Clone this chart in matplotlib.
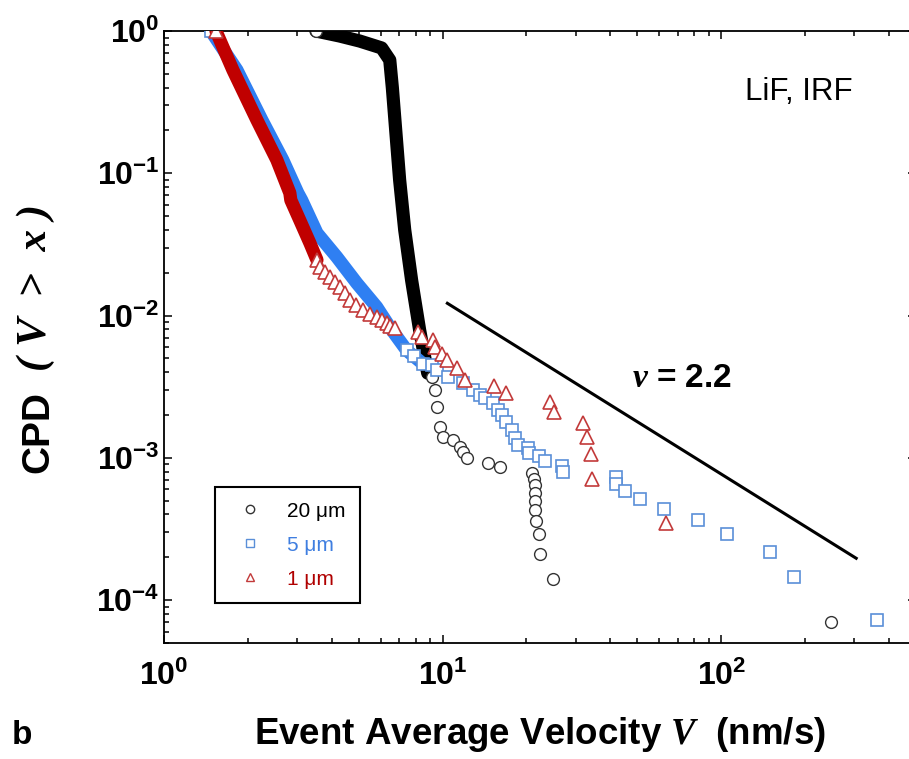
import numpy as np
import matplotlib.pyplot as plt
import matplotlib as mpl
from matplotlib.lines import Line2D
from matplotlib.ticker import NullFormatter
from matplotlib import font_manager

mpl.rcParams['font.family'] = ['Liberation Sans', 'DejaVu Sans']
mpl.rcParams['mathtext.fontset'] = 'custom'
mpl.rcParams['mathtext.rm'] = 'Liberation Sans:bold'
mpl.rcParams['mathtext.bf'] = 'Liberation Sans:bold'
mpl.rcParams['mathtext.it'] = 'Liberation Serif:italic:bold'
mpl.rcParams['axes.linewidth'] = 1.3

# condensed face for the axis titles if it is installed
installed = {f.name for f in font_manager.fontManager.ttflist}
narrow = 'Liberation Sans Narrow' if 'Liberation Sans Narrow' in installed else None

# 20 um: dense part (drawn as thick band) + open circles
black_line_x = [3.51, 4.27, 5.04, 6.04, 6.46, 6.6, 7.01, 7.31, 7.74, 8.27, 8.84]
black_line_y = [1.0, 0.922, 0.85, 0.76, 0.625, 0.40, 0.0897, 0.040, 0.0177, 7.9e-3, 3.94e-3]
black_pts_x = [3.51, 9.13, 9.36, 9.52, 9.75, 10.0, 10.9, 11.5, 11.8, 12.2, 14.5, 16.1,
               21.0, 21.2, 21.4, 21.4, 21.5, 21.5, 21.7, 22.1, 22.3, 24.8, 248]
black_pts_y = [1.0, 3.70e-3, 2.99e-3, 2.27e-3, 1.64e-3, 1.40e-3, 1.33e-3, 1.19e-3, 1.10e-3, 1.0e-3,
               9.2e-4, 8.6e-4, 7.8e-4, 7.1e-4, 6.4e-4, 5.7e-4, 5.0e-4, 4.3e-4, 3.6e-4, 2.9e-4,
               2.1e-4, 1.4e-4, 7.0e-5]

# 5 um
blue_line_x = [1.474, 1.827, 2.245, 2.670, 3.022, 3.12, 3.54, 4.17, 4.92, 5.80, 6.46, 7.43, 8.48]
blue_line_y = [1.0, 0.532, 0.237, 0.124, 0.0727, 0.0648, 0.038, 0.0258, 0.0169, 0.01148, 8.3e-3, 5.7e-3, 4.6e-3]
blue_pts_x = [1.474, 7.43, 7.9, 8.48, 9.13, 9.52, 10.42, 11.8, 12.81, 13.57, 14.14, 15.11, 15.75,
              16.27, 16.95, 17.67, 18.12, 18.57, 20.17, 20.5, 22.1, 23.4, 26.9, 27.1, 42.0,
              42.0, 45.3, 51.3, 62.5, 82.7, 105.1, 149.8, 182.7, 362]
blue_pts_y = [1.0, 5.7e-3, 5.2e-3, 4.6e-3, 4.49e-3, 4.14e-3, 3.70e-3, 3.35e-3, 2.99e-3, 2.76e-3,
              2.63e-3, 2.43e-3, 2.17e-3, 2.00e-3, 1.78e-3, 1.57e-3, 1.38e-3, 1.23e-3, 1.17e-3,
              1.08e-3, 1.03e-3, 9.5e-4, 8.75e-4, 7.94e-4, 7.32e-4, 6.54e-4, 5.84e-4, 5.13e-4,
              4.36e-4, 3.65e-4, 2.91e-4, 2.17e-4, 1.45e-4, 7.2e-5]

# 1 um
red_line_x = [1.536, 1.767, 2.154, 2.541, 2.829, 2.852, 3.07, 3.34, 3.54]
red_line_y = [1.0, 0.532, 0.237, 0.124, 0.0727, 0.0648, 0.0469, 0.0323, 0.0246]
red_pts_x = [1.536, 3.54, 3.63, 3.78, 3.94, 4.1, 4.27, 4.45, 4.64, 4.9, 5.17, 5.5, 5.80, 6.05,
             6.30, 6.5, 6.73, 8.13, 8.41, 9.20, 9.36, 9.91, 10.33, 11.22, 11.99, 15.24, 16.95,
             24.2, 25.2, 32.0, 33.1, 34.2, 34.5, 63.5]
red_pts_y = [1.0, 0.0246, 0.0219, 0.0202, 0.01865, 0.0172, 0.01586, 0.0143, 0.01285, 0.0119,
             0.01094, 0.0103, 9.76e-3, 9.3e-3, 8.86e-3, 8.5e-3, 8.17e-3, 7.66e-3, 7.07e-3,
             6.73e-3, 6.01e-3, 5.36e-3, 4.87e-3, 4.27e-3, 3.52e-3, 3.19e-3, 2.85e-3, 2.47e-3,
             2.10e-3, 1.76e-3, 1.40e-3, 1.06e-3, 7.1e-4, 3.48e-4]

# power-law guide, nu = 2.2
guide_x = [10.4, 305]
guide_y = [0.0122, 1.97e-4]

xtick_vals = [1, 10, 100]
xtick_labels = [r'$\mathbf{10^{0}}$', r'$\mathbf{10^{1}}$', r'$\mathbf{10^{2}}$']
ytick_vals = [1e-4, 1e-3, 1e-2, 1e-1, 1]
ytick_labels = [r'$\mathbf{10^{-4}}$', r'$\mathbf{10^{-3}}$', r'$\mathbf{10^{-2}}$',
                r'$\mathbf{10^{-1}}$', r'$\mathbf{10^{0}}$']
series_labels = ['20 μm', '5 μm', '1 μm']

c_black = 'black'
c_blue = '#2f7ff2'
c_blue_edge = '#5a8fd8'
c_red = '#c00000'
c_red_edge = '#c23a3a'

fig = plt.figure(figsize=(9.09, 7.59), dpi=100)
ax = fig.add_axes([164/909, 116/759, 752/909, 612/759])
ax.set_xscale('log')
ax.set_yscale('log')

lw_band = 9.5
ax.plot(black_line_x, black_line_y, '-', color=c_black, lw=lw_band,
        solid_capstyle='round', solid_joinstyle='round', zorder=2)
ax.plot(black_pts_x, black_pts_y, 'o', ls='none', ms=8.5, mfc='white', mec='#333333',
        mew=1.0, zorder=2.5)
ax.plot(blue_line_x, blue_line_y, '-', color=c_blue, lw=lw_band,
        solid_capstyle='round', solid_joinstyle='round', zorder=3)
ax.plot(blue_pts_x, blue_pts_y, 's', ls='none', ms=9, mfc='white', mec=c_blue_edge,
        mew=1.2, zorder=3.5)
ax.plot(red_line_x, red_line_y, '-', color=c_red, lw=lw_band,
        solid_capstyle='round', solid_joinstyle='round', zorder=4)
ax.plot(red_pts_x, red_pts_y, '^', ls='none', ms=9.5, mfc='white', mec=c_red_edge,
        mew=1.2, zorder=4.5)

ax.plot(guide_x, guide_y, '-', color='black', lw=2.2, zorder=5)

ax.set_xlim(1, 500)
ax.set_ylim(5e-5, 1)
ax.set_xticks(xtick_vals)
ax.set_xticklabels(xtick_labels)
ax.set_yticks(ytick_vals)
ax.set_yticklabels(ytick_labels)
ax.xaxis.set_minor_formatter(NullFormatter())
ax.yaxis.set_minor_formatter(NullFormatter())
ax.tick_params(which='both', direction='in', top=True, right=True, width=1.1)
ax.tick_params(which='major', length=6)
ax.tick_params(which='minor', length=3.3)
ax.tick_params(axis='x', which='major', labelsize=23, pad=13)
ax.tick_params(axis='y', which='major', labelsize=23, pad=3)

ax.text((745-164)/752, (643-92)/612, 'LiF, IRF', transform=ax.transAxes, fontsize=22.5,
        ha='left', va='center')
ax.text(0.622, 0.433, r'$\nu$ = 2.2', transform=ax.transAxes, fontsize=24,
        fontweight='bold', ha='left', va='center')

handles = [
    Line2D([], [], ls='none', marker='o', ms=6, mfc='white', mec='#333333', mew=1.0),
    Line2D([], [], ls='none', marker='s', ms=6, mfc='white', mec=c_blue_edge, mew=1.0),
    Line2D([], [], ls='none', marker='^', ms=6, mfc='white', mec=c_red_edge, mew=1.0),
]
leg = ax.legend(handles, series_labels, loc='upper left',
                bbox_to_anchor=((215-164)/752, (643-487)/612), fontsize=15,
                frameon=True, fancybox=False, edgecolor='black', framealpha=1,
                handlelength=2.0, handletextpad=0.75, labelspacing=0.72,
                borderpad=0.7, borderaxespad=0)
leg.get_frame().set_linewidth(1.5)
for txt, col in zip(leg.get_texts(), ['black', '#3f7ee0', '#b00000']):
    txt.set_color(col)

if narrow:
    fig.text(540/909, (759-735)/759, r'Event Average Velocity $V$  (nm/s)',
             fontsize=32, fontweight='bold', family=[narrow, 'Liberation Sans'],
             ha='center', va='center')
    fig.text(38/909, (759-432)/759, 'CPD', fontsize=33, fontweight='bold',
             family=[narrow, 'Liberation Sans'], ha='center', va='center', rotation=90)
else:
    fig.text(540/909, (759-735)/759, r'Event Average Velocity $V$  (nm/s)',
             fontsize=26.5, fontweight='bold', ha='center', va='center')
    fig.text(38/909, (759-432)/759, 'CPD', fontsize=28, fontweight='bold',
             ha='center', va='center', rotation=90)
fig.text(36/909, (759-287)/759, '( V  >  x )', fontsize=31, fontweight='bold',
         style='italic', family='Liberation Serif', ha='center', va='center', rotation=90)
fig.text(22/909, (759-735)/759, 'b', fontsize=24, fontweight='bold',
         ha='center', va='center')

fig.savefig('out.png', dpi=100)
